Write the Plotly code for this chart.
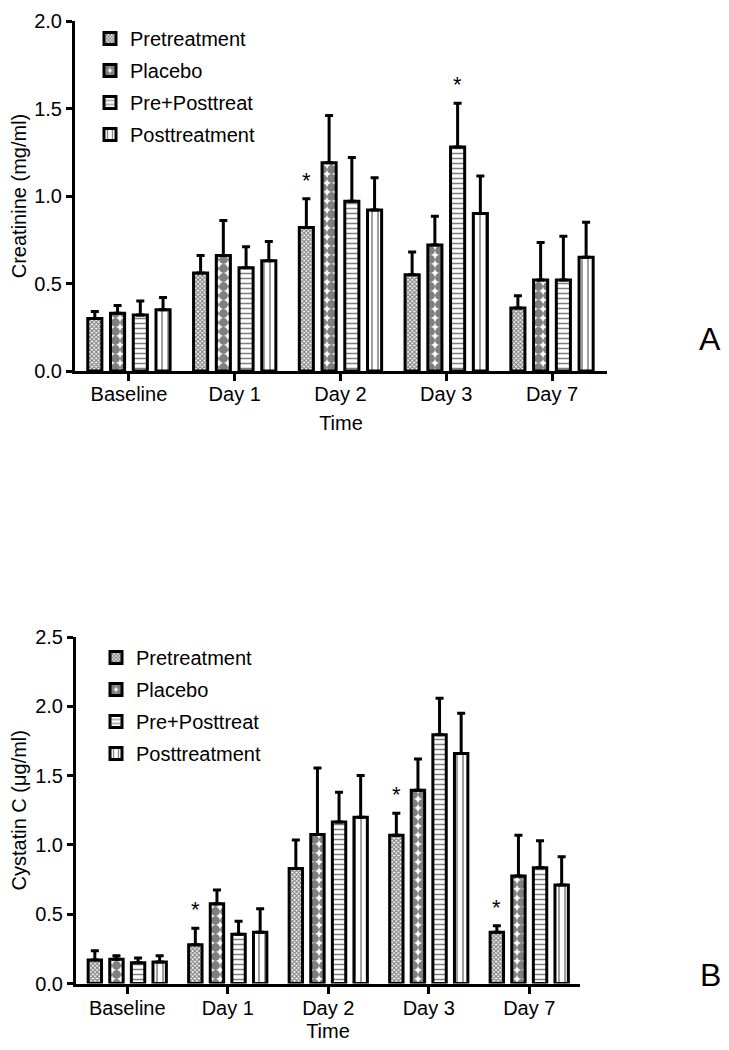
import plotly.graph_objects as go

# categories on the time axis
days = ["Baseline", "Day 1", "Day 2", "Day 3", "Day 7"]
groups = ["Pretreatment", "Placebo", "Pre+Posttreat", "Posttreatment"]

# panel A - creatinine (mg/ml), means and upper SD
creat_pre = [0.30, 0.56, 0.82, 0.55, 0.36]
creat_placebo = [0.33, 0.66, 1.19, 0.72, 0.52]
creat_prepost = [0.32, 0.59, 0.97, 1.28, 0.52]
creat_post = [0.35, 0.63, 0.92, 0.90, 0.65]
creat_pre_err = [0.04, 0.10, 0.165, 0.13, 0.07]
creat_placebo_err = [0.045, 0.20, 0.27, 0.165, 0.215]
creat_prepost_err = [0.08, 0.12, 0.25, 0.25, 0.25]
creat_post_err = [0.07, 0.11, 0.185, 0.215, 0.20]

# panel B - cystatin C (ug/ml)
cys_pre = [0.17, 0.28, 0.83, 1.07, 0.37]
cys_placebo = [0.175, 0.575, 1.075, 1.395, 0.775]
cys_prepost = [0.15, 0.355, 1.165, 1.795, 0.835]
cys_post = [0.155, 0.37, 1.20, 1.66, 0.71]
cys_pre_err = [0.067, 0.118, 0.205, 0.158, 0.047]
cys_placebo_err = [0.025, 0.10, 0.48, 0.225, 0.295]
cys_prepost_err = [0.034, 0.095, 0.215, 0.263, 0.195]
cys_post_err = [0.045, 0.17, 0.30, 0.29, 0.205]

# significance stars: (day index, group index)
creat_stars = [(2, 0), (3, 2)]
cys_stars = [(1, 0), (3, 0), (4, 0)]

FONT = "Liberation Sans, Arial, sans-serif"
OFF = 8  # page body margin; figure shrunk so the page fits the window
W, H = 729 - 2 * OFF, 1050 - 2 * OFF


def px(v):
    # page x in pixels -> paper fraction
    return (v - OFF) / W


def py(v):
    return 1 - (v - OFF) / H


patterns = [
    dict(shape="x", size=3, solidity=0.6),
    dict(shape=".", size=9, solidity=0.75),
    dict(shape="-", size=5, solidity=0.3),
    dict(shape="|", size=6, solidity=0.25),
]
BARGAP = 0.14
slot = (1 - BARGAP) / 4

fig = go.Figure()


def add_panel(means, errs, xa, ya, legend):
    for i, (name, m, e) in enumerate(zip(groups, means, errs)):
        fig.add_trace(go.Bar(
            x=days, y=m, name=name, xaxis=xa, yaxis=ya, legend=legend,
            legendgroup=legend + name,
            marker=dict(color="white", line=dict(color="black", width=3),
                        pattern=dict(fgcolor="black", bgcolor="white", **patterns[i])),
            error_y=dict(type="data", array=e, arrayminus=[0] * len(e), symmetric=False,
                         color="black", thickness=3, width=4),
        ))


add_panel([creat_pre, creat_placebo, creat_prepost, creat_post],
          [creat_pre_err, creat_placebo_err, creat_prepost_err, creat_post_err],
          "x", "y", "legend")
add_panel([cys_pre, cys_placebo, cys_prepost, cys_post],
          [cys_pre_err, cys_placebo_err, cys_prepost_err, cys_post_err],
          "x2", "y2", "legend2")

annotations = []


def add_stars(stars, means, errs, xref, yref):
    for d, g in stars:
        annotations.append(dict(
            x=d + (g - 1.5) * slot, y=means[g][d] + errs[g][d], xref=xref, yref=yref,
            text="*", showarrow=False, yanchor="bottom", yshift=4,
            font=dict(family=FONT, size=22, color="black"),
        ))


add_stars(creat_stars, [creat_pre, creat_placebo, creat_prepost, creat_post],
          [creat_pre_err, creat_placebo_err, creat_prepost_err, creat_post_err], "x", "y")
add_stars(cys_stars, [cys_pre, cys_placebo, cys_prepost, cys_post],
          [cys_pre_err, cys_placebo_err, cys_prepost_err, cys_post_err], "x2", "y2")

for label, lx, ly in [("A", 710, 339), ("B", 710, 975)]:
    annotations.append(dict(x=px(lx), y=py(ly), xref="paper", yref="paper", text=label,
                            xanchor="center", yanchor="middle", showarrow=False,
                            font=dict(family=FONT, size=32, color="black")))

axis_common = dict(showline=True, linecolor="black", linewidth=3, ticks="outside",
                   tickwidth=3, tickcolor="black", showgrid=False, zeroline=False,
                   automargin=False, ticklabeloverflow="allow",
                   tickfont=dict(family=FONT, size=20, color="black"))

legend_common = dict(font=dict(family=FONT, size=20, color="black"), bgcolor="rgba(0,0,0,0)",
                     tracegroupgap=3, xanchor="left", yanchor="top")

fig.update_layout(
    width=W, height=H,
    margin=dict(l=0, r=0, t=0, b=0),
    paper_bgcolor="white", plot_bgcolor="white",
    barmode="group", bargap=BARGAP, bargroupgap=0.38,
    font=dict(family=FONT, color="black"),
    xaxis=dict(domain=[px(75), px(607)], anchor="y", range=[-0.51, 4.52], ticklen=7,
               ticklabelstandoff=-4,
               title=dict(text="Time", font=dict(family=FONT, size=20), standoff=12), **axis_common),
    yaxis=dict(domain=[py(371), py(21)], anchor="x", range=[0, 2.0], dtick=0.5,
               tickformat=".1f", ticklen=6,
               title=dict(text="Creatinine (mg/ml)", font=dict(family=FONT, size=20), standoff=8),
               **axis_common),
    xaxis2=dict(domain=[px(76), px(580)], anchor="y2", range=[-0.51, 4.505], ticklen=7,
                ticklabelstandoff=-3,
                title=dict(text="Time", font=dict(family=FONT, size=20), standoff=17), **axis_common),
    yaxis2=dict(domain=[py(983.5), py(637)], anchor="x2", range=[0, 2.5], dtick=0.5,
                tickformat=".1f", ticklen=6,
                title=dict(text="Cystatin C (μg/ml)", font=dict(family=FONT, size=20), standoff=8),
                **axis_common),
    legend=dict(x=px(90), y=py(19), **legend_common),
    legend2=dict(x=px(96), y=py(638), **legend_common),
    annotations=annotations,
    showlegend=True,
)

fig.write_html("out.html")
